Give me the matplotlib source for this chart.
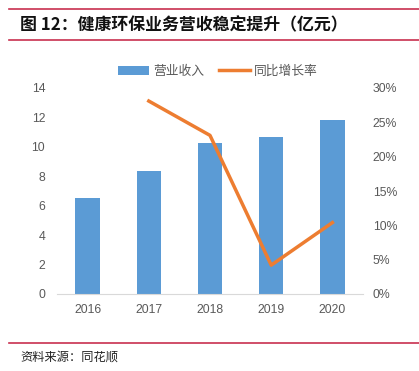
import matplotlib
matplotlib.use('Agg')
import matplotlib.pyplot as plt
from matplotlib.lines import Line2D
import numpy as np

plt.rcParams['font.family'] = ['Noto Sans CJK SC', 'DejaVu Sans']

# Data
years = ['2016', '2017', '2018', '2019', '2020']
revenue = [6.53, 8.34, 10.27, 10.7, 11.8]
growth_years = ['2017', '2018', '2019', '2020']
growth = [28.1, 23.1, 4.2, 10.4]

bar_color = '#5B9BD5'
line_color = '#ED7D31'
text_gray = '#595959'
red = '#C8304F'
tick_font = 'Liberation Sans'

fig = plt.figure(figsize=(4.19, 3.71), dpi=100)

# Title with red rules
fig.add_artist(Line2D([9/419, 1], [1 - 9/371] * 2, color=red, lw=1.2))
fig.add_artist(Line2D([9/419, 1], [1 - 40/371] * 2, color=red, lw=1.2))
fig.text(20/419, 1 - 25/371, '图 12：健康环保业务营收稳定提升（亿元）',
         fontsize=12.2, fontweight='bold', va='center', ha='left', color='#111111')
fig.add_artist(Line2D([9/419, 1], [1 - 343/371] * 2, color=red, lw=1.2))
fig.text(20/419, 1 - 357/371, '资料来源：同花顺', fontsize=8.8, va='center',
         ha='left', color='#222222')

ax = fig.add_axes([57/419, 1 - 294/371, 306/419, 206/371])
x = np.arange(len(years))
ax.bar(x, revenue, width=0.4, color=bar_color, label='营业收入', zorder=2)
ax.set_xlim(-0.5, len(years) - 0.5)
ax.set_ylim(0, 14)
ax.set_yticks(range(0, 15, 2))
ax.set_xticks(x)
ax.set_xticklabels(years)
for s in ['top', 'right', 'left']:
    ax.spines[s].set_visible(False)
ax.spines['bottom'].set_color('#D9D9D9')
ax.tick_params(axis='both', length=0, labelsize=8.8, labelcolor=text_gray)
ax.tick_params(axis='y', pad=8.5)
ax.tick_params(axis='x', pad=7)
for lab in ax.get_xticklabels() + ax.get_yticklabels():
    lab.set_fontfamily(tick_font)

ax2 = ax.twinx()
gx = [years.index(y) for y in growth_years]
ax2.plot(gx, growth, color=line_color, lw=2.5, label='同比增长率', zorder=3)
ax2.set_ylim(0, 30)
ax2.set_yticks(range(0, 31, 5))
ax2.set_yticklabels(['%d%%' % v for v in range(0, 31, 5)])
for s in ['top', 'right', 'left', 'bottom']:
    ax2.spines[s].set_visible(False)
ax2.tick_params(axis='y', length=0, labelsize=8.8, labelcolor=text_gray, pad=7)
for lab in ax2.get_yticklabels():
    lab.set_fontfamily(tick_font)

h1, l1 = ax.get_legend_handles_labels()
h2, l2 = ax2.get_legend_handles_labels()
fig.legend(h1 + h2, l1 + l2, loc='center', bbox_to_anchor=(218/419, 1 - 71/371),
           ncol=2, frameon=False, fontsize=9.2, labelcolor=text_gray,
           handlelength=2.4, columnspacing=1.2, handletextpad=0.3)

fig.savefig('out.png', dpi=100)
